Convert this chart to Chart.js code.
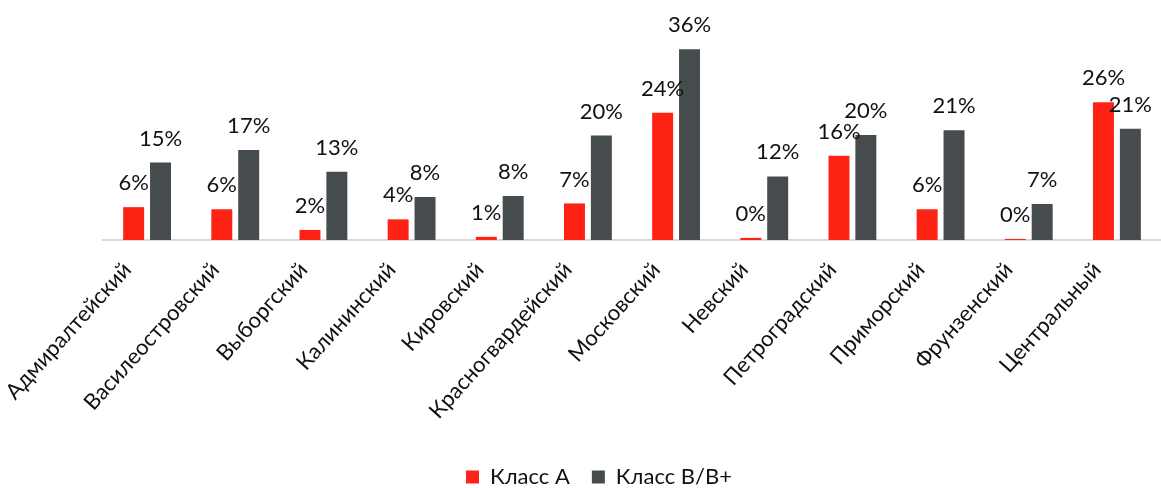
<!DOCTYPE html>
<html>
<head>
<meta charset="utf-8">
<script src="https://cdn.jsdelivr.net/npm/chart.js@4.4.1/dist/chart.umd.min.js"></script>
<style>
  html, body { margin: 0; padding: 0; background: #fff; }
  #wrap { width: 1161px; height: 488px; position: relative; }
</style>
</head>
<body>
<div id="wrap"><canvas id="districtChart"></canvas></div>
<script>
// районы
const districts = [
    'Адмиралтейский', 'Василеостровский', 'Выборгский', 'Калининский',
    'Кировский', 'Красногвардейский', 'Московский', 'Невский',
    'Петроградский', 'Приморский', 'Фрунзенский', 'Центральный'
];

// доли, %
const classA = [6.2, 5.8, 1.9, 3.9, 0.6, 6.9, 24, 0.4, 15.9, 5.8, 0.2, 26];
const classB = [14.6, 17, 12.9, 8.1, 8.3, 19.7, 36, 12, 19.8, 20.7, 6.8, 21];

const seriesNames = ['Класс А', 'Класс В/В+'];
const seriesColors = ['#ff2315', '#464b4e'];

// подписи значений над столбиками
const valueLabels = {
    id: 'valueLabels',
    afterDatasetsDraw(chart) {
        const ctx = chart.ctx;
        ctx.save();
        ctx.font = '22px Lato';
        ctx.fillStyle = '#111';
        ctx.textAlign = 'center';
        ctx.textBaseline = 'bottom';
        chart.data.datasets.forEach((ds, i) => {
            const meta = chart.getDatasetMeta(i);
            meta.data.forEach((bar, j) => {
                ctx.fillText(Math.round(ds.data[j]) + '%', bar.x, bar.y - 13);
            });
        });
        ctx.restore();
    }
};

// легенду чуть ниже и левее
const legendShift = {
    id: 'legendShift',
    afterLayout(chart) {
        chart.legend.top += 10;
        chart.legend.bottom += 10;
        chart.legend.left -= 33;
        chart.legend.right -= 33;
    }
};

new Chart(document.getElementById('districtChart'), {
    type: 'bar',
    data: {
        labels: districts,
        datasets: [
            { label: seriesNames[0], data: classA, backgroundColor: seriesColors[0] },
            { label: seriesNames[1], data: classB, backgroundColor: seriesColors[1] }
        ]
    },
    options: {
        responsive: true,
        maintainAspectRatio: false,
        animation: false,
        categoryPercentage: 0.61,
        barPercentage: 0.78,
        layout: { padding: { top: 28, left: 103, right: 0, bottom: 0 } },
        plugins: {
            legend: {
                position: 'bottom',
                labels: {
                    font: { family: 'Lato', size: 22 },
                    color: '#111',
                    boxWidth: 13,
                    boxHeight: 13,
                    padding: 22
                }
            },
            tooltip: { enabled: false }
        },
        scales: {
            x: {
                grid: { display: false },
                border: { color: '#d9d9d9', width: 2 },
                afterFit(scale) { scale.height = 194; },
                ticks: {
                    autoSkip: false,
                    minRotation: 48,
                    maxRotation: 48,
                    labelOffset: -20,
                    padding: 9,
                    color: '#111',
                    font: { family: 'Lato', size: 22 }
                }
            },
            y: {
                display: false,
                min: 0,
                max: 40
            }
        }
    },
    plugins: [valueLabels, legendShift]
});
</script>
</body>
</html>
